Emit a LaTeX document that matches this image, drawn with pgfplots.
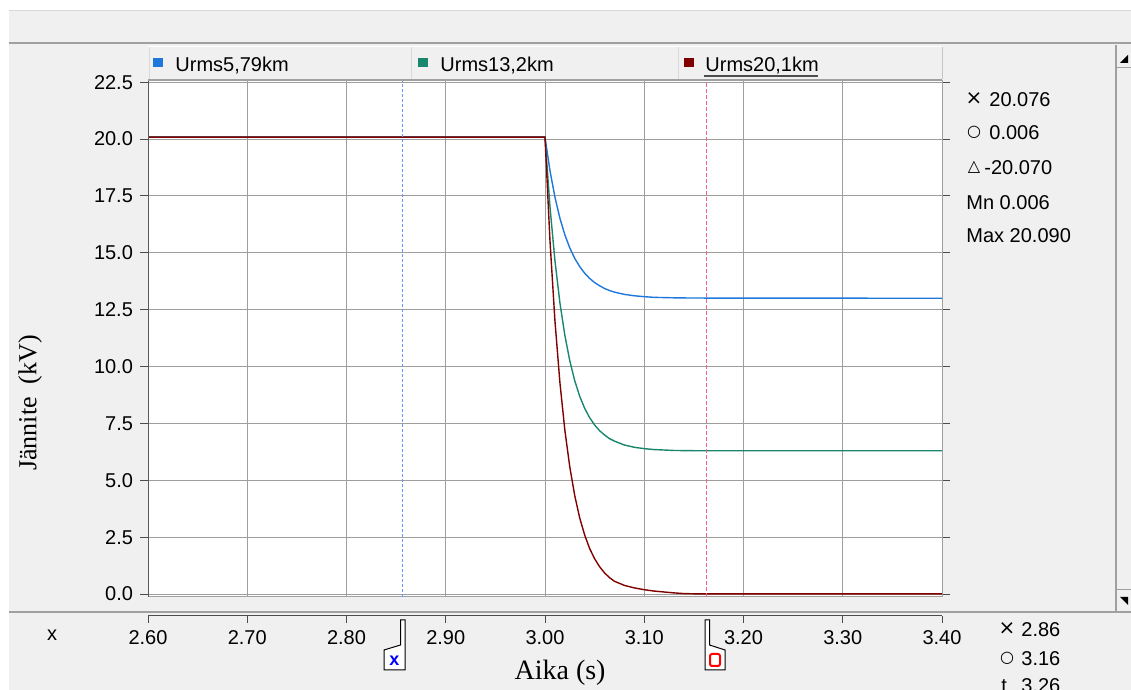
\documentclass[border=0pt]{standalone}
\usepackage{pgfplots}
\pgfplotsset{compat=1.18}
\usepackage{fontspec}
\setmainfont{Liberation Serif}
\newfontfamily\arial{Liberation Sans}
\newfontfamily\dejavu{DejaVu Sans}
\definecolor{bgG}{RGB}{240,240,240}
\definecolor{lineG}{RGB}{160,160,160}
\definecolor{gridG}{RGB}{160,158,156}
\definecolor{blueS}{RGB}{30,120,220}
\definecolor{greenS}{RGB}{25,135,110}
\definecolor{redS}{RGB}{128,0,0}
\definecolor{curB}{RGB}{100,150,255}
\definecolor{curR}{RGB}{240,100,130}
\newcommand{\tf}{\arial\fontsize{10}{12}\selectfont}
\newcommand{\labf}{\fontsize{14}{16}\selectfont}
\newcommand{\ylabf}{\fontsize{13}{15}\selectfont}
\begin{document}
\begin{tikzpicture}[x=0.5pt,y=0.5pt]
\clip (0,0) rectangle (1131,690);
% background
\fill[bgG] (0,0) rectangle (1131,690);
\fill[white] (0,679) rectangle (1131,690);
\fill[white] (0,0) rectangle (9,690);
\draw[line width=0.5pt, gray!30] (9,679) -- (1131,679);
\draw[line width=1pt, lineG] (9,646.5) -- (1131,646.5);
% legend tabs
\foreach \a/\b in {148/410,410/677,677/942}{
  \fill[bgG] (\a,610) rectangle (\b,643);
  \draw[line width=0.5pt, white] (\a,643) -- (\b,643);
  \draw[line width=0.5pt, gray!45] (\b,611) -- (\b,643);
  \draw[line width=0.5pt, gray!30] (\a+1,611) -- (\a+1,643);
}
\draw[line width=1pt, lineG] (148,610) -- (942,610);
\fill[blueS] (153,623) rectangle (163,632);
\fill[greenS] (418,623) rectangle (428,632);
\fill[redS] (684,623) rectangle (694,632);
\node[anchor=base west, inner sep=0pt, font=\tf] at (175,618) {Urms5,79km};
\node[anchor=base west, inner sep=0pt, font=\tf] at (440,618) {Urms13,2km};
\node[anchor=base west, inner sep=0pt, font=\tf] at (705,618) {Urms20,1km};
\draw[line width=1pt, black!70] (704,614) -- (818,614);
% right separators and scrollbar
\draw[line width=1pt, lineG] (1115.5,78) -- (1115.5,645);
\draw[line width=0.5pt, lineG] (1117,622) -- (1131,622);
\draw[line width=0.5pt, lineG] (1117,100) -- (1131,100);
\fill[black] (1120,627) -- (1128,627) -- (1128,635) -- cycle;
\fill[black] (1120,93) -- (1128,93) -- (1128,85) -- cycle;
% separator above x axis
\draw[line width=1pt, lineG] (9,77.5) -- (1131,77.5);

% main plot
\begin{axis}[
  at={(74pt,46.5pt)}, anchor=south west, scale only axis,
  width=397pt, height=258pt,
  xmin=2.6, xmax=3.4, ymin=-0.13, ymax=22.55,
  axis background/.style={fill=white},
  xtick={2.6,2.7,2.8,2.9,3.0,3.1,3.2,3.3,3.4}, xticklabels={},
  xtick style={draw=none},
  ytick={0,2.5,5,7.5,10,12.5,15,17.5,20,22.5},
  grid=major, major grid style={gridG, line width=0.5pt},
  tick align=outside, major tick length=4pt,
  ytick style={black!70, line width=0.5pt},
  yticklabel style={font=\tf, /pgf/number format/.cd, fixed, fixed zerofill, precision=1},
  /pgf/number format/assume math mode=true,
  axis line style={lineG, line width=0.5pt},
  ylabel={Jännite\ \ (kV)},
  ylabel style={font=\ylabf, at={(axis description cs:-0.1486,0.376)}, anchor=center},
]
\addplot[blueS, line width=0.7pt] coordinates {
(2.6,20.08) (3.0,20.08) (3.005,18.61) (3.01,17.45) (3.015,16.52) (3.02,15.79) (3.025,15.21) (3.03,14.75) (3.035,14.39) (3.04,14.10) (3.045,13.87) (3.05,13.69) (3.055,13.55) (3.06,13.43) (3.065,13.34) (3.07,13.27) (3.08,13.17) (3.09,13.11) (3.10,13.07) (3.11,13.04) (3.12,13.03) (3.13,13.02) (3.15,13.01) (3.4,13.00)};
\addplot[greenS, line width=0.7pt] coordinates {
(2.6,20.08) (3.0,20.08) (3.005,17.03) (3.01,14.66) (3.015,12.81) (3.02,11.37) (3.025,10.25) (3.03,9.37) (3.035,8.69) (3.04,8.16) (3.045,7.75) (3.05,7.43) (3.055,7.18) (3.06,6.99) (3.065,6.83) (3.07,6.72) (3.08,6.55) (3.09,6.45) (3.10,6.39) (3.11,6.35) (3.12,6.33) (3.13,6.31) (3.15,6.30) (3.4,6.30)};
\addplot[redS, line width=0.7pt] coordinates {
(2.6,20.08) (3.0,20.08) (3.005,15.54) (3.01,12.02) (3.015,9.31) (3.02,7.20) (3.025,5.58) (3.03,4.32) (3.035,3.34) (3.04,2.59) (3.045,2.00) (3.05,1.55) (3.055,1.20) (3.06,0.93) (3.065,0.72) (3.07,0.56) (3.08,0.38) (3.09,0.27) (3.10,0.19) (3.11,0.13) (3.12,0.09) (3.13,0.05) (3.14,0.02) (3.15,0.01) (3.4,0.006)};
\draw[curB, line width=0.5pt, dash pattern=on 1.5pt off 1pt] (axis cs:2.856,-0.13) -- (axis cs:2.856,22.55);
\draw[curR, line width=0.5pt, dash pattern=on 2pt off 1pt] (axis cs:3.163,-0.13) -- (axis cs:3.163,22.55);
\draw[black!65, line width=0.75pt] (rel axis cs:0,0) -- (rel axis cs:0,1);
\end{axis}

% bottom x axis
\begin{axis}[
  at={(74pt,37pt)}, anchor=south west, scale only axis,
  width=397pt, height=5pt,
  xmin=2.6, xmax=3.4, ymin=0, ymax=1,
  axis y line=none, axis x line*=bottom,
  x axis line style={black!70, line width=0.5pt},
  xtick={2.6,2.7,2.8,2.9,3.0,3.1,3.2,3.3,3.4},
  tick align=outside, major tick length=3.5pt,
  xtick style={black!70, line width=0.5pt},
  xticklabel style={font=\tf, /pgf/number format/.cd, fixed, fixed zerofill, precision=2},
  /pgf/number format/assume math mode=true,
  xlabel={Aika (s)},
  xlabel style={font=\labf, at={(axis description cs:0.519,-6.4)}, anchor=base},
]
\end{axis}

\node[font=\tf] at (52,55) {x};

% cursor markers
\draw[black, line width=0.5pt, fill=white] (400.5,70) -- (405,70) -- (405,20) -- (384,20) -- (384,40) -- (400.5,45) -- cycle;
\node[font=\arial\bfseries\fontsize{9}{10}\selectfont, text=blue, inner sep=0pt] at (394.5,29) {x};
\draw[black, line width=0.5pt, fill=white] (705,70) -- (709.5,70) -- (709.5,45) -- (725,40) -- (725,20) -- (705,20) -- cycle;
\draw[red, line width=1pt, rounded corners=1pt] (710,24) rectangle (720,36);

% right panel values
\node[font=\dejavu\fontsize{10}{12}\selectfont, inner sep=0pt] at (974,591) {×};
\node[anchor=west, inner sep=0pt, font=\tf] at (989,590) {20.076};
\node[font=\dejavu\fontsize{8}{10}\selectfont, inner sep=0pt] at (974,558) {○};
\node[anchor=west, inner sep=0pt, font=\tf] at (989,557) {0.006};
\node[font=\dejavu\fontsize{8}{10}\selectfont, inner sep=0pt] at (974,523) {△};
\node[anchor=west, inner sep=0pt, font=\tf] at (984,522) {-20.070};
\node[anchor=west, inner sep=0pt, font=\tf] at (966,487) {Mn 0.006};
\node[anchor=west, inner sep=0pt, font=\tf] at (966,454) {Max 20.090};

\node[font=\dejavu\fontsize{10}{12}\selectfont, inner sep=0pt] at (1007,61) {×};
\node[anchor=west, inner sep=0pt, font=\tf] at (1021,60) {2.86};
\node[font=\dejavu\fontsize{8}{10}\selectfont, inner sep=0pt] at (1007,32) {○};
\node[anchor=west, inner sep=0pt, font=\tf] at (1021,31) {3.16};
\node[anchor=west, inner sep=0pt, font=\tf] at (1001,4) {t};
\node[anchor=west, inner sep=0pt, font=\tf] at (1021,4) {3.26};
\end{tikzpicture}
\end{document}
